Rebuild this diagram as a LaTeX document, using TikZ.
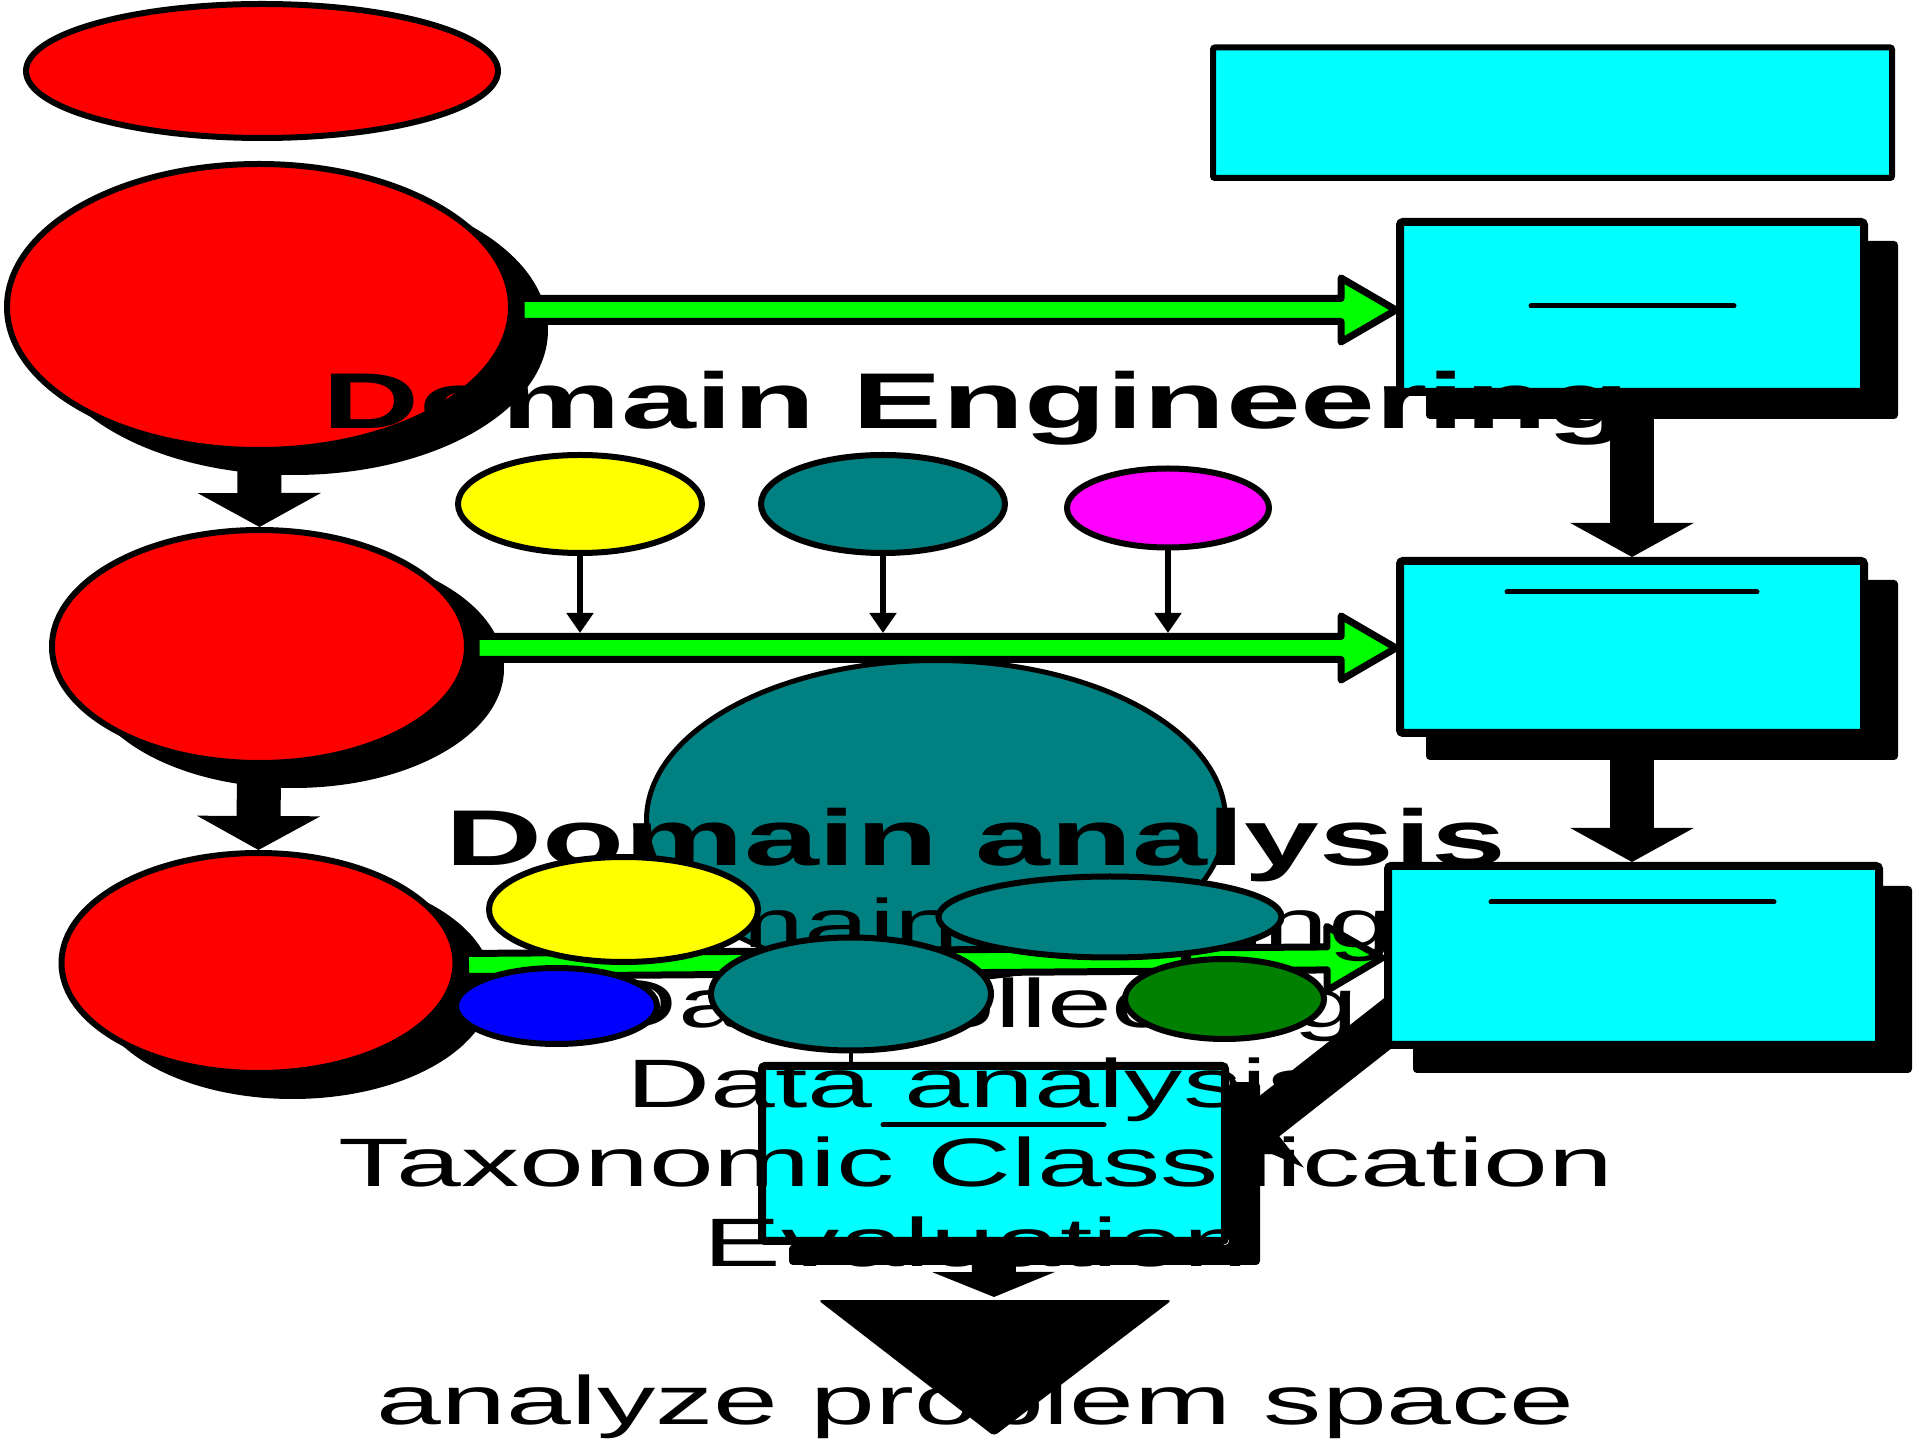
\documentclass[tikz,border=0pt]{standalone}
\usepackage{fontspec}
\setmainfont{Liberation Sans}
\usetikzlibrary{shapes.geometric,arrows.meta,calc,backgrounds}
\definecolor{cRed}{RGB}{255,0,0}
\definecolor{cCyan}{RGB}{0,255,255}
\definecolor{cTeal}{RGB}{0,128,128}
\definecolor{cYellow}{RGB}{255,255,0}
\definecolor{cMag}{RGB}{255,0,255}
\definecolor{cBlue}{RGB}{0,0,255}
\definecolor{cDkGreen}{RGB}{0,128,0}
\definecolor{cLime}{RGB}{0,255,0}
\newcommand\greenarrow[2]{%
  \coordinate (gS) at (#1);
  \coordinate (gT) at (#2);
  \coordinate (gH) at ($(gT)!5.5mm!(gS)$);
  \filldraw[grn] ($(gS)!1.15mm!90:(gT)$) -- ($(gH)!1.15mm!90:(gT)$) -- ($(gH)!3.2mm!90:(gT)$)
    -- (gT) -- ($(gH)!3.2mm!-90:(gT)$) -- ($(gH)!1.15mm!-90:(gT)$) -- ($(gS)!1.15mm!-90:(gT)$) -- cycle;}
\newcommand\wide[1]{\scalebox{1.70}[1]{#1}}
\begin{document}
\begin{tikzpicture}[x=0.1mm,y=-0.1mm,
  ell/.style={ellipse, draw=black, line width=0.6mm, inner sep=0pt},
  box/.style={rectangle, draw=black, line width=0.8mm, fill=cCyan, inner sep=0pt, rounded corners=0.3mm},
  fat/.style={draw=black, line width=4.4mm, -{Triangle[width=12.2mm,length=3.4mm]}},
  fatshort/.style={draw=black, line width=4.4mm, -{Triangle[width=12.2mm,length=2.5mm]}},
  tarrow/.style={draw=black, line width=0.6mm, -{Triangle[width=2.6mm,length=2mm]}},
  txt/.style={inner sep=0pt, anchor=base, font=\fontsize{19.5}{22}\selectfont},
  btxt/.style={inner sep=0pt, anchor=base, font=\fontsize{22.5}{26}\selectfont\bfseries},
  grn/.style={fill=cLime, draw=black, line width=0.7mm, line join=round},
  shade/.style={fill=black, rounded corners=0.4mm},
  iline/.style={line width=0.5mm, line cap=round}]
\useasboundingbox (0,0) rectangle (1920,1440);

% red ellipses
\node[ell, fill=cRed, minimum width=47.2mm, minimum height=13.4mm] (r1) at (262,71) {};
\node[ell, fill=cRed, minimum width=50.4mm, minimum height=28.6mm] (r2) at (259,307) {};
\node[ell, fill=cRed, minimum width=41.5mm, minimum height=23.3mm] (r3) at (259.5,646.5) {};
\node[ell, fill=cRed, minimum width=39.4mm, minimum height=22mm] (r4) at (258.5,963) {};

% big teal ellipse
\node[ell, fill=cTeal, line width=0.5mm, minimum width=57.9mm, minimum height=31.9mm] (bt) at (936,820) {};

% row of small ellipses
\node[ell, fill=cYellow, minimum width=24.4mm, minimum height=9.8mm] (e1) at (580,504) {};
\node[ell, fill=cTeal, minimum width=24.4mm, minimum height=9.8mm] (e2) at (883,504) {};
\node[ell, fill=cMag, minimum width=20.2mm, minimum height=7.9mm] (e3) at (1168,508) {};
\coordinate (ga2top) at (976,633);
\draw[tarrow] (e1.south) -- (e1.south |- ga2top);
\draw[tarrow] (e2.south) -- (e2.south |- ga2top);
\draw[tarrow] (e3.south) -- (e3.south |- ga2top);

% cyan rectangles
\node[box, line width=0.6mm, rounded corners=0.2mm, minimum width=67.9mm, minimum height=13.05mm] (rc0) at (1552.5,112.75) {};
\node[box, minimum width=46.4mm, minimum height=17mm] (rc1) at (1632,307) {};
\node[box, minimum width=46.4mm, minimum height=17.2mm] (rc2) at (1632,647) {};
\node[box, minimum width=49.1mm, minimum height=17.9mm] (rc3) at (1633.5,955.5) {};
\draw[iline] (1531,306) -- (1734,306);
\draw[iline] (1507,592) -- (1757,592);
\draw[iline] (1491,902) -- (1774,902);

% green arrows
\greenarrow{$(r2.east)+(7,3)$}{$(rc1.west)+(0,3)$}
\greenarrow{$(r3.east)+(6,1.5)$}{$(rc2.west)+(0,1)$}
\greenarrow{$(r4.east)+(7,2)$}{$(rc3.west)+(-2,2.5)$}

% titles and first text lines
\node[btxt] (tDE) at (976,429) {\wide{Domain Engineering}};
\node[btxt] (tDA) at (976,866) {\wide{Domain analysis}};
\node[txt] (tDS) at (976,948) {\wide{Domain scoping}};
\node[txt] (tDC) at (976,1028) {\wide{Data collecting}};

% lower cluster of ellipses
\node[ell, fill=cYellow, minimum width=26.9mm, minimum height=10.5mm] (l1) at (623.5,909.5) {};
\node[ell, fill=cTeal, minimum width=34.3mm, minimum height=8.1mm] (l2) at (1110,917) {};
\node[ell, fill=cBlue, minimum width=20.1mm, minimum height=7.6mm] (l3) at (556.5,1006) {};
\node[ell, fill=cTeal, minimum width=28mm, minimum height=11.3mm] (l4) at (851,994) {};
\node[ell, fill=cDkGreen, minimum width=19.9mm, minimum height=8mm] (l5) at (1224.5,999) {};

% small cyan box
\node[box, minimum width=46.3mm, minimum height=17.5mm] (sb) at (993.5,1153.5) {};
\draw[iline] (883,1125) -- (1104,1125);
\draw[line width=0.4mm] (l4.south) -- (l4.south |- sb.north);

\node[txt] (tDa) at (976,1107) {\wide{Data analysis}};
\node[txt] (tTC) at (976,1187) {\wide{Taxonomic Classification}};
\node[txt] (tEv) at (976,1266) {\wide{Evaluation}};

% shadow of the small box (drawn over the text)
\fill[shade] ($(sb.north east)+(0,20)$) -- ($(sb.north east)+(31,20)$) -- ($(sb.south east)+(31,20)$)
  -- ($(sb.south west)+(31,20)$) -- ($(sb.south west)+(31,0)$) -- (sb.south east) -- cycle;

% big triangle and bottom text
\coordinate (btA) at (818,1300);
\coordinate (btB) at (1172,1300);
\coordinate (btC) at (994,1436);
\node[txt] (tAP) at (976,1424) {\wide{analyze problem space}};
\fill[rounded corners=0.4mm] (btA) -- (btB) -- (btC) -- cycle;

% background: white, fat arrows, shadows
\begin{scope}[on background layer]
  \fill[white] (0,0) rectangle (1920,1440);
  \draw[fat] (r2.center) -- (r3.north);
  \draw[fat] (r3.center) -- (r4.north);
  \draw[fat] (rc1.center) -- (rc1.center |- rc2.north);
  \draw[fat] (rc2.center) -- (rc2.center |- rc3.north);
  \coordinate (diagS) at (1420,998);
  \coordinate (diagT) at (1239,1140);
  \draw[fat] (diagS) -- (diagT);
  \coordinate (tipA) at (994,1297);
  \draw[fatshort] (sb.center) -- (tipA);
  \fill ($(r2.center)+(35,23)$) ellipse [x radius=25.4mm, y radius=14.5mm];
  \fill ($(r3.center)+(34,22)$) ellipse [x radius=21.05mm, y radius=11.95mm];
  \fill ($(r4.center)+(34,23)$) ellipse [x radius=20mm, y radius=11.3mm];
  \fill[shade] ($(rc1.north west)+(30,23)$) rectangle ($(rc1.south east)+(30,23)$);
  \fill[shade] ($(rc2.north west)+(30,23)$) rectangle ($(rc2.south east)+(30,23)$);
  \fill[shade] ($(rc3.north west)+(29,24)$) rectangle ($(rc3.south east)+(29,24)$);
\end{scope}
\end{tikzpicture}
\end{document}
